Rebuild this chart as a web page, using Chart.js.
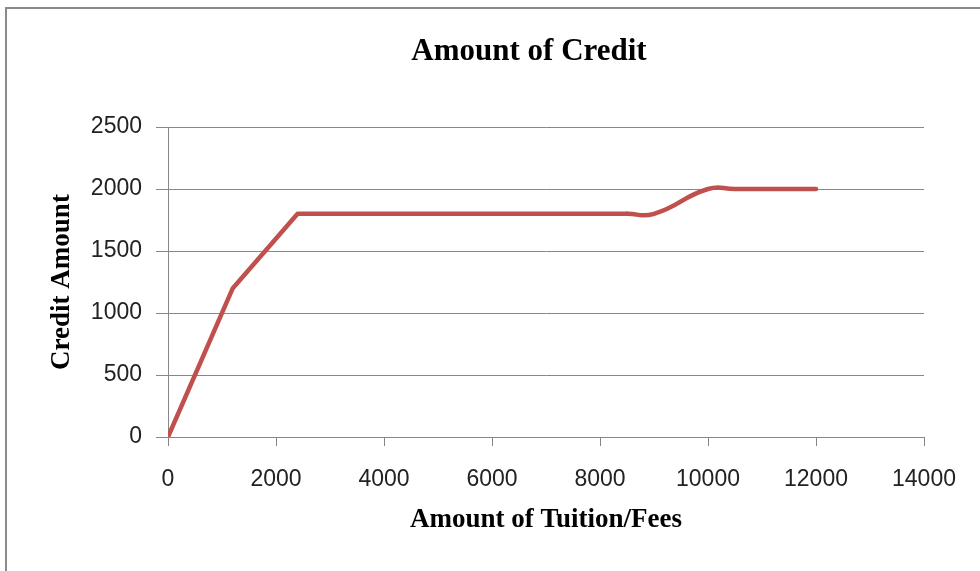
<!DOCTYPE html>
<html>
<head>
    <title>Amount of Credit</title>
    <script src="https://cdn.jsdelivr.net/npm/chart.js"></script>
    <style>
        body {
            margin: 0;
            background: #ffffff;
            overflow: hidden;
        }
        .frame {
            position: absolute;
            left: 5px;
            top: 7px;
            width: 1100px;
            height: 700px;
            border: 2px solid #8a8a8a;
            pointer-events: none;
        }
        .chart-title {
            position: absolute;
            left: 0;
            top: 31px;
            width: 1058px;
            text-align: center;
            font-family: "Liberation Serif", serif;
            font-weight: bold;
            font-size: 31px;
            line-height: 37px;
            color: #000;
        }
        #creditChart {
            position: absolute;
            left: 0;
            top: 0;
        }
    </style>
</head>
<body>
    <canvas id="creditChart" width="1058" height="571"></canvas>
    <div class="chart-title">Amount of Credit</div>
    <div class="frame"></div>

    <script>
        // Credit rises with tuition, then levels off at 1800
        const tuitionRise = [0, 1200, 2400, 8500];
        const creditRise = [0, 1200, 1800, 1800];

        // Smoothed step from 1800 up to 2000
        const tuitionTop = [8500, 9000, 10000, 10500, 12000];
        const creditTop = [1800, 1800, 2000, 2000, 2000];

        const xTicks = [0, 2000, 4000, 6000, 8000, 10000, 12000, 14000];
        const yTicks = [0, 500, 1000, 1500, 2000, 2500];

        const lineColor = '#c0504d';
        const gridColor = '#878787';

        const toPoints = (xs, ys) => xs.map((x, i) => ({ x: x, y: ys[i] }));

        const ctx = document.getElementById('creditChart').getContext('2d');
        const creditChart = new Chart(ctx, {
            type: 'scatter',
            data: {
                datasets: [{
                    data: toPoints(tuitionRise, creditRise),
                    showLine: true,
                    borderColor: lineColor,
                    borderWidth: 4.5,
                    tension: 0,
                    pointRadius: 0,
                    borderCapStyle: 'round',
                    borderJoinStyle: 'round'
                }, {
                    data: toPoints(tuitionTop, creditTop),
                    showLine: true,
                    borderColor: lineColor,
                    borderWidth: 4.5,
                    tension: 0.5,
                    pointRadius: 0,
                    borderCapStyle: 'round',
                    borderJoinStyle: 'round'
                }]
            },
            options: {
                responsive: false,
                animation: false,
                layout: {
                    padding: { left: 0, right: 134, top: 127, bottom: 0 }
                },
                plugins: {
                    legend: { display: false },
                    tooltip: { enabled: false },
                    title: { display: false }
                },
                scales: {
                    x: {
                        type: 'linear',
                        min: 0,
                        max: 14000,
                        afterBuildTicks: (scale) => {
                            scale.ticks = xTicks.map(v => ({ value: v }));
                        },
                        afterFit: (scale) => { scale.height = 134; },
                        grid: {
                            drawOnChartArea: false,
                            drawTicks: true,
                            tickLength: 9,
                            color: gridColor
                        },
                        border: { color: gridColor, width: 1 },
                        ticks: {
                            color: '#222',
                            padding: 20,
                            maxRotation: 0,
                            callback: (v) => String(v),
                            font: { family: '"Liberation Sans", Arial, sans-serif', size: 23 }
                        },
                        title: {
                            display: true,
                            text: 'Amount of Tuition/Fees',
                            color: '#000',
                            font: { family: '"Liberation Serif", serif', size: 27, weight: 'bold' },
                            padding: { top: 0, bottom: 35 }
                        }
                    },
                    y: {
                        min: 0,
                        max: 2500,
                        afterBuildTicks: (scale) => {
                            scale.ticks = yTicks.map(v => ({ value: v }));
                        },
                        afterFit: (scale) => { scale.width = 168; },
                        grid: {
                            color: gridColor,
                            drawTicks: true,
                            tickLength: 12
                        },
                        border: { color: gridColor, width: 1 },
                        ticks: {
                            color: '#222',
                            padding: 14,
                            callback: (v) => String(v),
                            font: { family: '"Liberation Sans", Arial, sans-serif', size: 23 }
                        },
                        title: {
                            display: true,
                            text: 'Credit Amount',
                            color: '#000',
                            font: { family: '"Liberation Serif", serif', size: 27, weight: 'bold' },
                            padding: { top: 46, bottom: 0 }
                        }
                    }
                }
            }
        });
    </script>
</body>
</html>
